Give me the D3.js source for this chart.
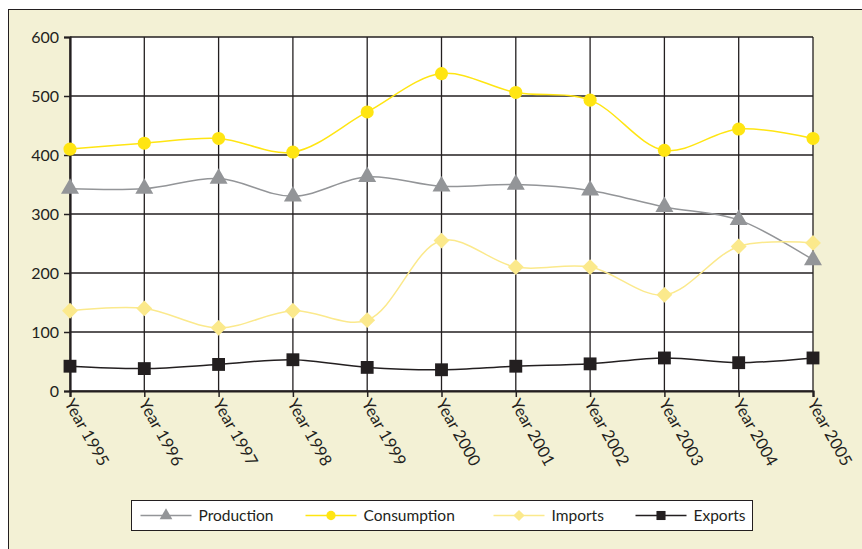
<!DOCTYPE html>
<html>
<head>
<meta charset="utf-8">
<script src="https://cdn.jsdelivr.net/npm/d3@7"></script>
<style>
  body { margin: 0; background: #fff; }
  svg { display: block; font-family: "Lato", "Open Sans", sans-serif; }
</style>
</head>
<body>
<svg id="chart" width="862" height="549"></svg>
<script>
// data
const years = ['Year 1995', 'Year 1996', 'Year 1997', 'Year 1998', 'Year 1999', 'Year 2000',
               'Year 2001', 'Year 2002', 'Year 2003', 'Year 2004', 'Year 2005']
const production  = [343, 343, 360, 330, 363, 347, 350, 340, 312, 290, 222]
const consumption = [410, 420, 428, 405, 473, 538, 506, 493, 408, 444, 428]
const imports     = [136, 140, 107, 136, 120, 255, 210, 210, 163, 245, 251]
const exports     = [42, 38, 45, 53, 40, 36, 42, 46, 56, 48, 56]
const yTicks = [0, 100, 200, 300, 400, 500, 600]

const series = [
    { name: 'Production',  values: production,  color: '#939598', marker: 'triangle' },
    { name: 'Consumption', values: consumption, color: '#ffe512', marker: 'circle' },
    { name: 'Imports',     values: imports,     color: '#fbe98c', marker: 'diamond' },
    { name: 'Exports',     values: exports,     color: '#231f20', marker: 'square' }
]

let svg = d3.select('#chart')

// outer frame
svg.append('rect')
    .attr('x', 8.5).attr('y', 9.5)
    .attr('width', 870).attr('height', 560)
    .attr('fill', '#f3f1d5')
    .attr('stroke', '#231f20')
    .attr('stroke-width', 1)

let margin = { left: 70, top: 37, right: 862 - 813, bottom: 549 - 391 }
let width = 862 - margin.left - margin.right,
    height = 549 - margin.top - margin.bottom

let g = svg.append('g').attr('transform', `translate(${margin.left},${margin.top})`)

g.append('rect').attr('width', width).attr('height', height).attr('fill', '#fff')

let x = d3.scalePoint().domain(years).range([0, width])
let y = d3.scaleLinear().domain([0, 600]).range([height, 0])

// grid
g.append('g').selectAll('line.h').data(yTicks).join('line')
    .attr('x1', 0).attr('x2', width)
    .attr('y1', d => y(d)).attr('y2', d => y(d))
    .attr('stroke', '#231f20').attr('stroke-width', 1.3)
g.append('g').selectAll('line.v').data(years).join('line')
    .attr('x1', d => x(d)).attr('x2', d => x(d))
    .attr('y1', 0).attr('y2', height)
    .attr('stroke', '#231f20').attr('stroke-width', 1.3)

// axes
let yAxis = g.append('g')
    .call(d3.axisLeft(y).tickValues(yTicks).tickSize(6).tickPadding(5))
let xAxis = g.append('g')
    .attr('transform', `translate(0,${height})`)
    .call(d3.axisBottom(x).tickSize(6).tickFormat(''))

;[yAxis, xAxis].forEach(a => {
    a.select('.domain').attr('stroke', '#231f20').attr('stroke-width', 2.2)
    a.selectAll('.tick line').attr('stroke', '#231f20').attr('stroke-width', 1.5)
})
yAxis.selectAll('.tick text').attr('font-size', 16).attr('fill', '#231f20')
    .attr('font-family', 'Lato, sans-serif')

// rotated year labels
g.append('g').selectAll('text').data(years).join('text')
    .attr('transform', d => `translate(${x(d) - 6},${height + 12}) rotate(61)`)
    .attr('font-size', 16.5)
    .attr('fill', '#231f20')
    .attr('text-anchor', 'start')
    .text(d => d)

function markerPath(type, size) {
    if (type === 'triangle') return d3.symbol(d3.symbolTriangle, size)()
    if (type === 'diamond') return d3.symbol(d3.symbolDiamond2, size)()
    if (type === 'square') return d3.symbol(d3.symbolSquare, size)()
    return d3.symbol(d3.symbolCircle, size)()
}
const markerSize = { triangle: 140, circle: 135, diamond: 160, square: 165 }

let line = d3.line()
    .curve(d3.curveCatmullRom.alpha(0.5))
    .x((d, i) => x(years[i]))
    .y(d => y(d))

series.forEach(s => {
    g.append('path')
        .datum(s.values)
        .attr('fill', 'none')
        .attr('stroke', s.color)
        .attr('stroke-width', 1.5)
        .attr('d', line)
    g.append('g').selectAll('path').data(s.values).join('path')
        .attr('transform', (d, i) => `translate(${x(years[i])},${y(d)})`)
        .attr('d', markerPath(s.marker, markerSize[s.marker]))
        .attr('fill', s.color)
})

// legend
let lg = svg.append('g').attr('transform', 'translate(131.5,500.5)')
lg.append('rect').attr('width', 621).attr('height', 30)
    .attr('fill', '#fff').attr('stroke', '#231f20').attr('stroke-width', 1)
const legendX = [9, 174, 362, 504]
series.forEach((s, i) => {
    let item = lg.append('g').attr('transform', `translate(${legendX[i]},15)`)
    item.append('line').attr('x1', 0).attr('x2', 51)
        .attr('stroke', s.color).attr('stroke-width', 1.5)
    item.append('path')
        .attr('transform', 'translate(25.5,0)')
        .attr('d', markerPath(s.marker, markerSize[s.marker] * 0.5))
        .attr('fill', s.color)
    item.append('text').attr('x', 58).attr('y', 5.5)
        .attr('font-size', 15.5).attr('fill', '#231f20')
        .text(s.name)
})
</script>
</body>
</html>
